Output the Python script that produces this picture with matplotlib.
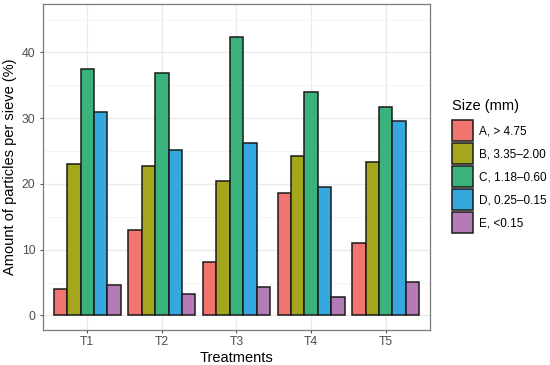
import numpy as np
import matplotlib.pyplot as plt
from matplotlib.ticker import MultipleLocator

plt.rcParams['font.family'] = ['Liberation Sans', 'DejaVu Sans']

treatments = ['T1', 'T2', 'T3', 'T4', 'T5']
sizes = ['A, > 4.75', 'B, 3.35\u20132.00', 'C, 1.18\u20130.60', 'D, 0.25\u20130.15', 'E, <0.15']
colors = ['#F0756E', '#A4A61E', '#3AB27B', '#35A8E0', '#B57BB6']

# percent of particles per sieve, one list per size class (T1..T5)
size_a = [4.05, 13.0, 8.2, 18.6, 11.0]
size_b = [23.1, 22.8, 20.4, 24.3, 23.3]
size_c = [37.5, 36.8, 42.3, 34.0, 31.7]
size_d = [30.9, 25.1, 26.2, 19.6, 29.5]
size_e = [4.6, 3.3, 4.3, 2.8, 5.1]
series = [size_a, size_b, size_c, size_d, size_e]

fig = plt.figure(figsize=(5.5, 3.65), dpi=100)
ax = fig.add_axes([0.078, 0.096, 0.704, 0.892])

x = np.arange(1, len(treatments) + 1)
w = 0.9 / len(series)
handles = []
for i, (vals, c, lab) in enumerate(zip(series, colors, sizes)):
    pos = x - 0.45 + w * (i + 0.5)
    b = ax.bar(pos, vals, width=w, color=c, edgecolor='#1a1a1a', linewidth=1.1,
               label=lab, zorder=3)
    handles.append(b)

ax.set_xlim(0.405, 5.595)
ax.set_ylim(-2.2, 47.3)
ax.set_xticks(x)
ax.set_xticklabels(treatments)
ax.yaxis.set_major_locator(MultipleLocator(10))
ax.yaxis.set_minor_locator(MultipleLocator(5))
ax.grid(which='major', color='#EBEBEB', linewidth=1.0, zorder=0)
ax.grid(which='minor', axis='y', color='#F2F2F2', linewidth=0.6, zorder=0)
ax.tick_params(axis='both', which='major', length=2.5, width=0.8, color='#555555',
               labelcolor='#4D4D4D', labelsize=8.8, pad=2)
ax.tick_params(axis='y', which='major', pad=3)
ax.tick_params(axis='y', which='minor', length=0)
for s in ax.spines.values():
    s.set_color('#7a7a7a')
    s.set_linewidth(0.9)

ax.set_xlabel('Treatments', fontsize=10.5, labelpad=2)
ax.set_ylabel('Amount of particles per sieve (%)', fontsize=10.5, labelpad=3)

leg = fig.legend(handles=handles, labels=sizes, loc='upper left',
                 bbox_to_anchor=(452 / 550, 1 - 99 / 365), title='Size (mm)',
                 frameon=False, fontsize=8.5, title_fontsize=10.5,
                 handlelength=1.78, handleheight=2.36, labelspacing=0.17,
                 handletextpad=0.5, borderpad=0, borderaxespad=0)
leg._legend_box.align = 'left'
leg._legend_box.sep = 5

fig.savefig('out.png', dpi=100)
